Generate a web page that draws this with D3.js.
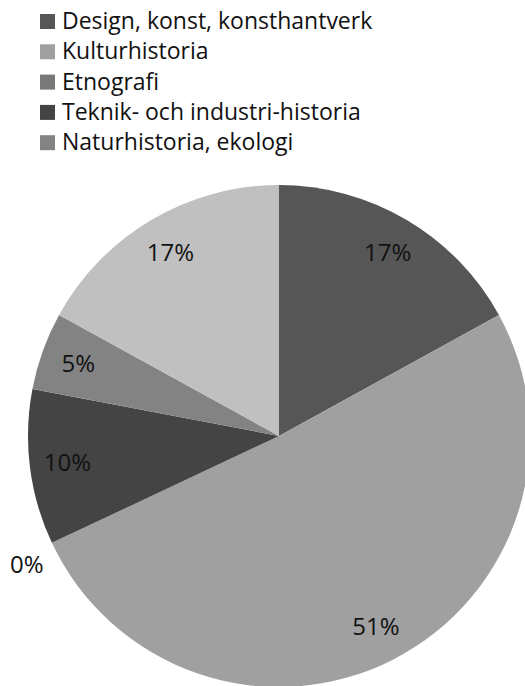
<!DOCTYPE html>
<meta charset="utf-8">
<html>
<head>
<script src="https://d3js.org/d3.v7.min.js"></script>
<style>
  body { margin: 0; background: #fff; }
  text { font-family: "Open Sans", sans-serif; fill: #111; }
</style>
</head>
<body>
<svg id="chart" width="525" height="686"></svg>
<script>
// categories in slice order (clockwise from 12 o'clock)
var categories = ["Design, konst, konsthantverk", "Kulturhistoria", "Etnografi",
                  "Teknik- och industri-historia", "Naturhistoria, ekologi", "Övrigt"];
var values = [17, 51, 0, 10, 5, 17];
var colors = ["#565656", "#a0a0a0", "#787878", "#444444", "#838383", "#c0c0c0"];
// only the first five appear in the legend
var legendItems = categories.slice(0, 5);

var svg = d3.select("#chart");
var cx = 279, cy = 436, r = 251;

var data = categories.map(function (c, i) { return { name: c, value: values[i], color: colors[i] }; });

var pie = d3.pie().sort(null).value(function (d) { return d.value; });
var arc = d3.arc().innerRadius(0).outerRadius(r);
var labelArc = d3.arc().innerRadius(r * 0.85).outerRadius(r * 0.85);
var outerArc = d3.arc().innerRadius(r * 1.11).outerRadius(r * 1.11);

var g = svg.append("g").attr("transform", "translate(" + cx + "," + cy + ")");
var arcs = pie(data);

g.selectAll("path")
  .data(arcs)
  .enter()
  .append("path")
    .attr("d", arc)
    .attr("fill", function (d) { return d.data.color; });

var total = d3.sum(values);
g.selectAll("text.lbl")
  .data(arcs)
  .enter()
  .append("text")
    .attr("class", "lbl")
    .attr("transform", function (d) {
      // zero slices get their label just outside the rim
      var p = d.data.value === 0 ? outerArc.centroid(d) : labelArc.centroid(d);
      if (d.data.value === 0) p[1] += 10;
      return "translate(" + p + ")";
    })
    .attr("text-anchor", "middle")
    .attr("dy", "0.35em")
    .style("font-size", "24px")
    .text(function (d) { return Math.round(d.data.value / total * 100) + "%"; });

// legend
var legend = svg.append("g").attr("transform", "translate(40,0)");
var rows = legend.selectAll("g")
  .data(legendItems)
  .enter()
  .append("g")
    .attr("transform", function (d, i) { return "translate(0," + (21 + i * 30.3) + ")"; });

rows.append("rect")
  .attr("x", 0).attr("y", -7)
  .attr("width", 15).attr("height", 15)
  .attr("fill", function (d, i) { return colors[i]; });

rows.append("text")
  .attr("x", 22)
  .attr("dy", "0.35em")
  .style("font-size", "23px")
  .text(function (d) { return d; });
</script>
</body>
</html>
